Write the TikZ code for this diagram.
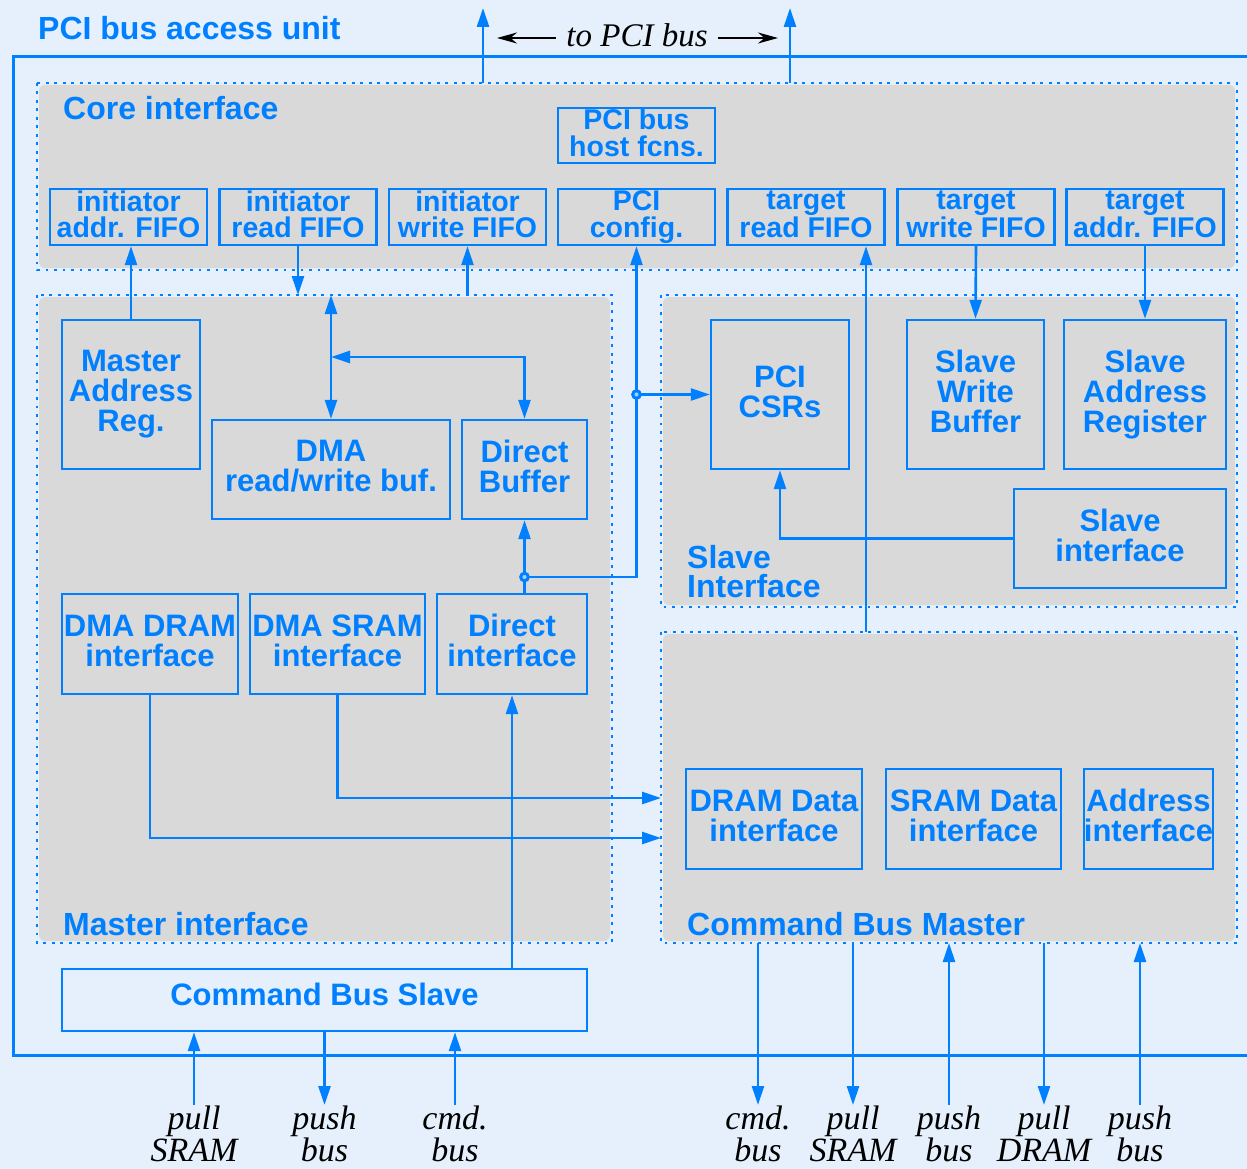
\documentclass[tikz,border=0pt]{standalone}
\usepackage{fontspec}
\setmainfont{Liberation Serif}
\setsansfont{Liberation Sans}
\usetikzlibrary{arrows.meta,calc}
\definecolor{pciBlue}{RGB}{0,128,255}
\definecolor{paneBlue}{RGB}{230,240,252}
\definecolor{paneGray}{RGB}{217,217,217}
\newcommand{\pane}[4]{\fill[paneGray,rounded corners=6pt] (#1+2,#2+2) rectangle (#3-2,#4-2);
  \draw[pciBlue,line width=2.6pt,dash pattern=on 2.6pt off 5.9pt] (#1,#2) rectangle (#3,#4);}
\newcommand{\joint}[1]{\filldraw[draw=pciBlue,fill=paneBlue!70!pciBlue,line width=3pt] (#1) circle (3.8pt);}
\tikzset{
  unitbox/.style={draw=pciBlue,line width=2.4pt,text=pciBlue,align=center,inner sep=0pt,
    font=\sffamily\bfseries\fontsize{31}{30}\selectfont,execute at end node={\vphantom{g}}},
  fifobox/.style={unitbox,minimum width=157pt,minimum height=56pt,
    font=\sffamily\bfseries\fontsize{28.5}{26.5}\selectfont},
  panelabel/.style={text=pciBlue,anchor=west,align=left,inner sep=0pt,
    font=\sffamily\bfseries\fontsize{32}{29}\selectfont},
  buslabel/.style={anchor=north,align=center,inner sep=0pt,
    font=\itshape\fontsize{34}{31.5}\selectfont},
  busline/.style={pciBlue,line width=2.6pt,-{Triangle[length=19pt,width=12pt]}},
  bothways/.style={busline,{Triangle[length=19pt,width=12pt]}-{Triangle[length=19pt,width=12pt]}},
  pcipointer/.style={black,line width=1.7pt,-{Stealth[length=20pt,width=11pt]}}
}

\begin{document}
\begin{tikzpicture}[x=1pt,y=-1pt]
\useasboundingbox (0,0) rectangle (1247,1169);
\clip (0,0) rectangle (1247,1169);
\fill[paneBlue] (0,0) rectangle (1247,1169);
\pane{37}{83}{1237}{270}\pane{37}{295}{612}{943}
\pane{661}{295}{1237}{607}\pane{661}{632}{1237}{943}
\draw[pciBlue,line width=3pt] (13,57) rectangle (1265,1055);
\coordinate (coretop) at (0,83); \coordinate (mastertop) at (0,295);
\coordinate (cbmtop) at (0,632); \coordinate (cbmleft) at (661,0); \coordinate (cbmbot) at (0,943);
\coordinate (pciL) at (483,8); \coordinate (pciR) at (790,8);
\coordinate (rwsplit) at (0,357); \coordinate (dbrow) at (0,577);
\coordinate (sramrow) at (0,798); \coordinate (dramrow) at (0,838);
\coordinate (busfoot) at (0,1105);

\node[panelabel] (title) at (38,28) {PCI bus access unit};
\node[panelabel] (corelbl) at (63,108) {Core interface};
\node[panelabel] (masterlbl) at (63,924) {Master interface};
\node[panelabel] (slavelbl) at (687,572) {Slave\\Interface};
\node[panelabel] (cbmlbl) at (687,924) {Command Bus Master};

% core interface
\node[fifobox,minimum height=55pt] (hostfn) at (636.5,135.5) {PCI bus\\host fcns.};
\node[fifobox] (iaddr) at (128.5,217) {initiator\\addr. FIFO};
\node[fifobox] (iread) at (298,217) {initiator\\read FIFO};
\node[fifobox] (iwrite) at (467.5,217) {initiator\\write FIFO};
\node[fifobox] (cfg) at (636.5,217) {PCI\\config.};
\node[fifobox] (tread) at (806,217) {target\\read FIFO};
\node[fifobox] (twrite) at (976,217) {target\\write FIFO};
\node[fifobox] (taddr) at (1145,217) {target\\addr. FIFO};

% master interface
\node[unitbox,minimum width=138pt,minimum height=149pt] (mar) at (131,394.5) {Master\\Address\\Reg.};
\node[unitbox,minimum width=238pt,minimum height=99pt] (dmarw) at (331,469.5) {DMA\\read/write buf.};
\node[unitbox,minimum width=125pt,minimum height=99pt] (dbuf) at (524.5,469.5) {Direct\\Buffer};
\node[unitbox,minimum width=176pt,minimum height=100pt] (ddram) at (150,644) {DMA DRAM\\interface};
\node[unitbox,minimum width=175pt,minimum height=100pt] (dsram) at (337.5,644) {DMA SRAM\\interface};
\node[unitbox,minimum width=150pt,minimum height=100pt] (dif) at (512,644) {Direct\\interface};

% slave interface
\node[unitbox,minimum width=138pt,minimum height=149pt] (csr) at (780,394.5) {PCI\\CSRs};
\node[unitbox,minimum width=137pt,minimum height=149pt] (swb) at (975.5,394.5) {Slave\\Write\\Buffer};
\node[unitbox,minimum width=162pt,minimum height=149pt] (sar) at (1145,394.5) {Slave\\Address\\Register};
\node[unitbox,minimum width=212pt,minimum height=99pt] (sif) at (1120,538.5) {Slave\\interface};

% command bus master / slave
\node[unitbox,minimum width=176pt,minimum height=100pt] (dramif) at (774,819) {DRAM Data\\interface};
\node[unitbox,minimum width=175pt,minimum height=100pt] (sramif) at (973.5,819) {SRAM Data\\interface};
\node[unitbox,minimum width=125pt,minimum height=100pt] (addrif) at (1148.5,819) {Address\\interface};
\node[unitbox,minimum width=525pt,minimum height=62pt,text depth=12pt] (cbs) at (324.5,1000) {Command Bus Slave};

\node[buslabel] (sPull) at (194,1106) {pull\\SRAM};
\node[buslabel] (sPush) at (324.5,1106) {push\\bus};
\node[buslabel] (sCmd) at (455,1106) {cmd.\\bus};
\node[buslabel] (mCmd) at (758,1106) {cmd.\\bus};
\node[buslabel] (mPullS) at (853,1106) {pull\\SRAM};
\node[buslabel] (mPush) at (949,1106) {push\\bus};
\node[buslabel] (mPullD) at (1044,1106) {pull\\DRAM};
\node[buslabel] (mPushB) at (1140,1106) {push\\bus};
\node[buslabel,anchor=center,font=\itshape\fontsize{33}{32}\selectfont] (tobus) at (637,35) {to PCI bus};

% connectors
\draw[busline] (pciL |- coretop) -- (pciL);
\draw[busline] (pciR |- coretop) -- (pciR);
\draw[pcipointer] ($(tobus.west)+(-10,3)$) -- ($(pciL |- tobus.west)+(14,3)$);
\draw[pcipointer] ($(tobus.east)+(10,3)$) -- ($(pciR |- tobus.east)+(-12,3)$);
\draw[busline] (mar.north) -- (mar.north |- iaddr.south);
\draw[busline] (iread.south) -- (iread.south |- mastertop);
\draw[busline] (iwrite.south |- mastertop) -- (iwrite.south);
\draw[bothways] (dmarw.north |- mastertop) -- (dmarw.north);
\draw[bothways] (dmarw.north |- rwsplit) -| (dbuf.north);
\coordinate (cfgjoint) at (cfg.south |- csr.west);
\coordinate (dbufjoint) at (dbuf.south |- dbrow);
\draw[busline] (dbufjoint) -| (cfg.south);
\draw[busline] (cfgjoint) -- (csr.west);
\draw[busline] (dif.north -| dbuf.south) -- (dbuf.south);
\draw[busline] (cbs.north -| dif.south) -- (dif.south);
\draw[busline] (dsram.south) |- (cbmleft |- sramrow);
\draw[busline] (ddram.south) |- (cbmleft |- dramrow);
\coordinate (treadfoot) at ([xshift=60pt]tread.south);
\draw[busline] (treadfoot |- cbmtop) -- (treadfoot);
\draw[busline] (twrite.south) -- (swb.north);
\draw[busline] (taddr.south) -- (sar.north);
\draw[busline] (sif.west) -| (csr.south);
\draw[busline] (sPull.north |- busfoot) -- (sPull.north |- cbs.south);
\draw[busline] (cbs.south -| sPush.north) -- (sPush.north |- busfoot);
\draw[busline] (sCmd.north |- busfoot) -- (sCmd.north |- cbs.south);
\draw[busline] (cbmbot -| mCmd.north) -- (mCmd.north |- busfoot);
\draw[busline] (cbmbot -| mPullS.north) -- (mPullS.north |- busfoot);
\draw[busline] (mPush.north |- busfoot) -- (mPush.north |- cbmbot);
\draw[busline] (cbmbot -| mPullD.north) -- (mPullD.north |- busfoot);
\draw[busline] (mPushB.north |- busfoot) -- (mPushB.north |- cbmbot);
\joint{cfgjoint}\joint{dbufjoint}
\end{tikzpicture}
\end{document}
